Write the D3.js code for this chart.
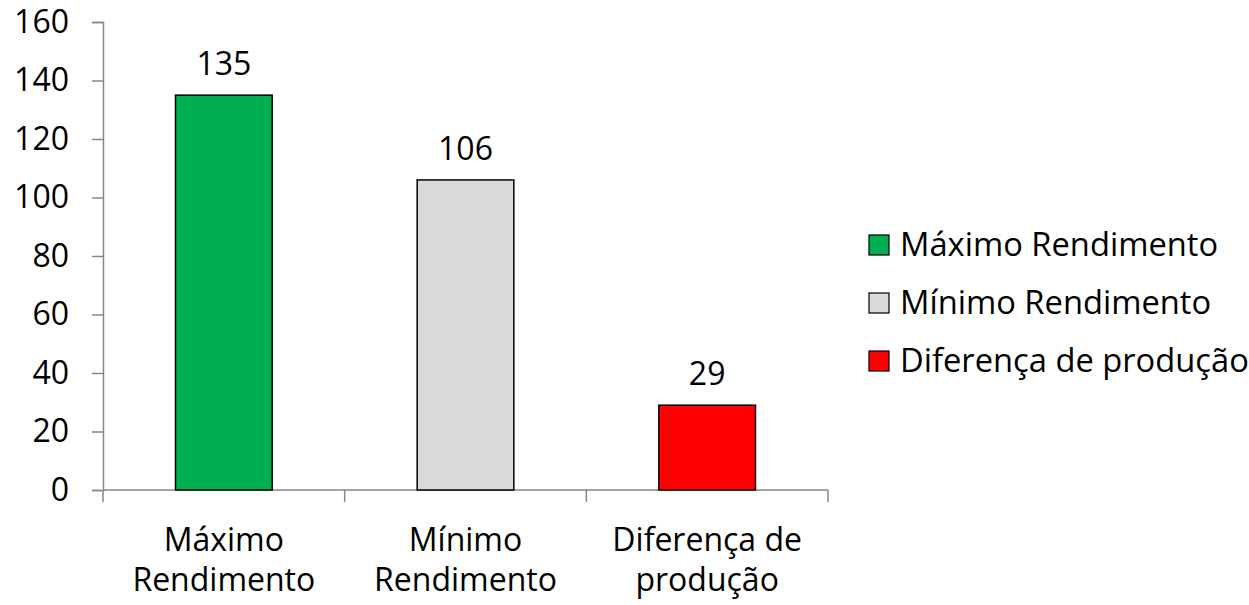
<!DOCTYPE html>
<html><head><meta charset="utf-8">
<script src="https://cdn.jsdelivr.net/npm/d3@7"></script>
<style>body{margin:0;background:#fff}svg text{font-family:"Open Sans",sans-serif;fill:#000}</style>
</head><body><svg id="c" width="1249" height="605"></svg>
<script>
const categories = ["Máximo Rendimento","Mínimo Rendimento","Diferença de produção"];
const categoryLines = [["Máximo","Rendimento"],["Mínimo","Rendimento"],["Diferença de","produção"]];
const values = [135,106,29];
const colors = ["#00B050","#D9D9D9","#FF0000"];
const yTicks = [0,20,40,60,80,100,120,140,160];

const svg = d3.select("#c");
const fs = 32;
const FF = '"Open Sans",sans-serif';
const x = d3.scaleBand().domain(categories).range([103,828]).paddingInner(0.6).paddingOuter(0.3);
const xOuter = d3.scaleBand().domain(categories).range([103,828]);
const y = d3.scaleLinear().domain([0,160]).range([490,22]);

// y axis
const ya = svg.append("g").attr("transform","translate(103,0)")
  .call(d3.axisLeft(y).tickValues(yTicks).tickSize(11).tickPadding(24));
ya.attr("font-size",fs).attr("font-family",FF);
ya.select(".domain").attr("stroke","#868686").attr("stroke-width",1.5);
ya.selectAll(".tick line").attr("stroke","#868686").attr("stroke-width",1.5);
ya.selectAll(".tick text").attr("fill","#000").attr("x",-34);

// x axis
const xa = svg.append("g").attr("transform","translate(0,490)");
xa.append("line").attr("x1",103).attr("x2",828).attr("stroke","#868686").attr("stroke-width",1.5);
const bounds = [103, ...categories.map(c=>xOuter(c)+xOuter.bandwidth())];
xa.selectAll("line.t").data(bounds).enter().append("line").attr("class","t")
  .attr("x1",d=>d).attr("x2",d=>d).attr("y1",0).attr("y2",12).attr("stroke","#868686").attr("stroke-width",1.5);

// bars
svg.selectAll("rect.bar").data(values).enter().append("rect").attr("class","bar")
  .attr("x",(d,i)=>x(categories[i])).attr("width",x.bandwidth())
  .attr("y",d=>y(d)).attr("height",d=>y(0)-y(d))
  .attr("fill",(d,i)=>colors[i]).attr("stroke","#000").attr("stroke-width",1.5);

// labels
svg.selectAll("text.val").data(values).enter().append("text").attr("class","val")
  .attr("x",(d,i)=>x(categories[i])+x.bandwidth()/2).attr("y",d=>y(d)-20)
  .attr("text-anchor","middle").attr("font-size",fs).text(d=>d);

// category labels
categoryLines.forEach((lines,i)=>{
  const cx = xOuter(categories[i])+xOuter.bandwidth()/2;
  lines.forEach((l,j)=>{
    svg.append("text").attr("x",cx).attr("y",551+j*40).attr("text-anchor","middle").attr("font-size",fs).text(l);
  });
});

// legend
const lg = svg.append("g");
categories.forEach((c,i)=>{
  const cy = 245 + i*58;
  lg.append("rect").attr("x",869).attr("y",cy-10).attr("width",20).attr("height",20)
    .attr("fill",colors[i]).attr("stroke","#000").attr("stroke-width",1.2);
  lg.append("text").attr("x",900).attr("y",cy+11).attr("font-size",32.7).text(c);
});
</script></body></html>
